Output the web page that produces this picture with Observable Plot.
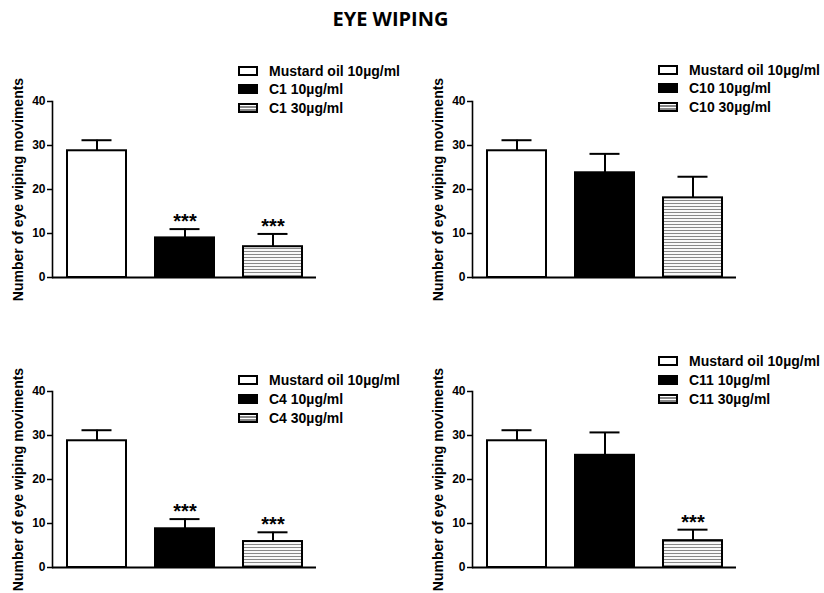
<!DOCTYPE html>
<html>
<head>
<meta charset="utf-8">
<script src="https://cdn.jsdelivr.net/npm/d3@7"></script>
<script src="https://cdn.jsdelivr.net/npm/@observablehq/plot@0.6"></script>
<style>
html, body { margin: 0; padding: 0; background: #fff; }
#chart { position: relative; width: 824px; height: 593px; overflow: hidden; font-family: "Liberation Sans", Arial, sans-serif; color: #000; }
.title { position: absolute; left: 0; width: 781px; top: 7px; text-align: center; font-family: "Open Sans", sans-serif; font-weight: 700; font-size: 20px; line-height: 24px; }
.panel { position: absolute; }
.legend { position: absolute; font-weight: bold; font-size: 14px; }
.legend .row { display: flex; align-items: center; white-space: nowrap; }
.sw { width: 20px; height: 10px; box-sizing: border-box; border: 2px solid #000; margin-right: 11px; flex: none; }
</style>
</head>
<body>
<div id="chart"></div>
<script>
// ---- data ----
const chartTitle = "EYE WIPING";
const yLabel = "Number of eye wiping moviments";
const yTicks = [0, 10, 20, 30, 40];
const compounds = ["C1", "C10", "C4", "C11"];
const doseLabels = ["Mustard oil 10µg/ml", "10µg/ml", "30µg/ml"];

const c1Means = [28.8, 9.0, 7.0];
const c1Sem = [2.4, 2.0, 2.9];
const c1Sig = ["", "***", "***"];

const c10Means = [28.8, 23.8, 18.1];
const c10Sem = [2.4, 4.3, 4.8];
const c10Sig = ["", "", ""];

const c4Means = [28.8, 8.8, 5.9];
const c4Sem = [2.4, 2.2, 2.1];
const c4Sig = ["", "***", "***"];

const c11Means = [28.8, 25.5, 6.1];
const c11Sem = [2.4, 5.2, 2.5];
const c11Sig = ["", "", "***"];

const panelMeans = [c1Means, c10Means, c4Means, c11Means];
const panelSem = [c1Sem, c10Sem, c4Sem, c11Sem];
const panelSig = [c1Sig, c10Sig, c4Sig, c11Sig];

// ---- layout ----
const layout = [
  {left: 0,   top: 90.5,  legendLeft: 238, legendTop: 61.5,  rowH: 18.5},
  {left: 420, top: 90.5,  legendLeft: 658, legendTop: 60.5,  rowH: 18.5},
  {left: 0,   top: 380.7, legendLeft: 238, legendTop: 370.5, rowH: 19.2},
  {left: 420, top: 380.7, legendLeft: 658, legendTop: 351.5, rowH: 19.2}
];
const hatchCss = "repeating-linear-gradient(to bottom, #fff 0px, #fff 1.5px, #888 1.5px, #888 2.8px)";

const chart = document.getElementById("chart");
const t = document.createElement("div");
t.className = "title";
t.textContent = chartTitle;
chart.appendChild(t);

compounds.forEach((comp, p) => {
  const cats = [doseLabels[0], `${comp} ${doseLabels[1]}`, `${comp} ${doseLabels[2]}`];
  const data = cats.map((c, i) => ({
    cat: c, mean: panelMeans[p][i], upper: panelMeans[p][i] + panelSem[p][i], sig: panelSig[p][i]
  }));
  const hatchId = `hatch-${p}`;
  const fills = ["white", "black", `url(#${hatchId})`];
  const L = layout[p];

  const plot = Plot.plot({
    width: 330, height: 198,
    marginLeft: 52, marginRight: 14, marginTop: 10, marginBottom: 12,
    style: {fontFamily: "'Liberation Sans', Arial, sans-serif", fontWeight: "bold", fontSize: "12px", color: "black", background: "transparent", overflow: "visible"},
    x: {type: "band", domain: cats, range: [67, 302], paddingInner: 0.33, paddingOuter: 0, axis: null},
    y: {domain: [0, 40]},
    marks: [
      ...[0, 1, 2].map(k => Plot.barY(data.filter((d, i) => i === k), {
        x: "cat", y: "mean", fill: fills[k], stroke: "black", strokeWidth: 2
      })),
      Plot.ruleX(data, {x: "cat", y1: "mean", y2: "upper", stroke: "black", strokeWidth: 2}),
      Plot.tickY(data, {x: "cat", y: "upper", inset: 14.5, stroke: "black", strokeWidth: 2}),
      Plot.text(data.filter(d => d.sig), {x: "cat", y: "upper", text: "sig", lineAnchor: "bottom", dy: -1, fontSize: 20, fontWeight: "bold"}),
      Plot.ruleY([0], {stroke: "black", strokeWidth: 2}),
      Plot.frame({anchor: "left", stroke: "black", strokeWidth: 1.6}),
      Plot.axisY({ticks: yTicks, tickSize: 5, tickPadding: 2, fontSize: 12, fontWeight: "bold", strokeWidth: 1.5, label: null}),
      Plot.text([yLabel], {text: d => d, frameAnchor: "left", textAnchor: "middle", lineAnchor: "middle", rotate: -90, dx: -34, fontSize: 14, fontWeight: "bold"})
    ]
  });

  const ns = "http://www.w3.org/2000/svg";
  const defs = document.createElementNS(ns, "defs");
  defs.innerHTML = `<pattern id="${hatchId}" patternUnits="userSpaceOnUse" width="8" height="3">
    <rect width="8" height="3" fill="white"></rect>
    <line x1="0" x2="8" y1="1.5" y2="1.5" stroke="#888" stroke-width="1.1"></line></pattern>`;
  plot.insertBefore(defs, plot.firstChild);

  const wrap = document.createElement("div");
  wrap.className = "panel";
  wrap.style.left = L.left + "px";
  wrap.style.top = L.top + "px";
  wrap.appendChild(plot);
  chart.appendChild(wrap);

  const leg = document.createElement("div");
  leg.className = "legend";
  leg.style.left = L.legendLeft + "px";
  leg.style.top = L.legendTop + "px";
  cats.forEach((c, k) => {
    const row = document.createElement("div");
    row.className = "row";
    row.style.height = L.rowH + "px";
    const sw = document.createElement("div");
    sw.className = "sw";
    sw.style.background = k === 0 ? "#fff" : k === 1 ? "#000" : hatchCss;
    const tx = document.createElement("span");
    tx.textContent = c;
    row.appendChild(sw);
    row.appendChild(tx);
    leg.appendChild(row);
  });
  chart.appendChild(leg);
});
</script>
</body>
</html>
